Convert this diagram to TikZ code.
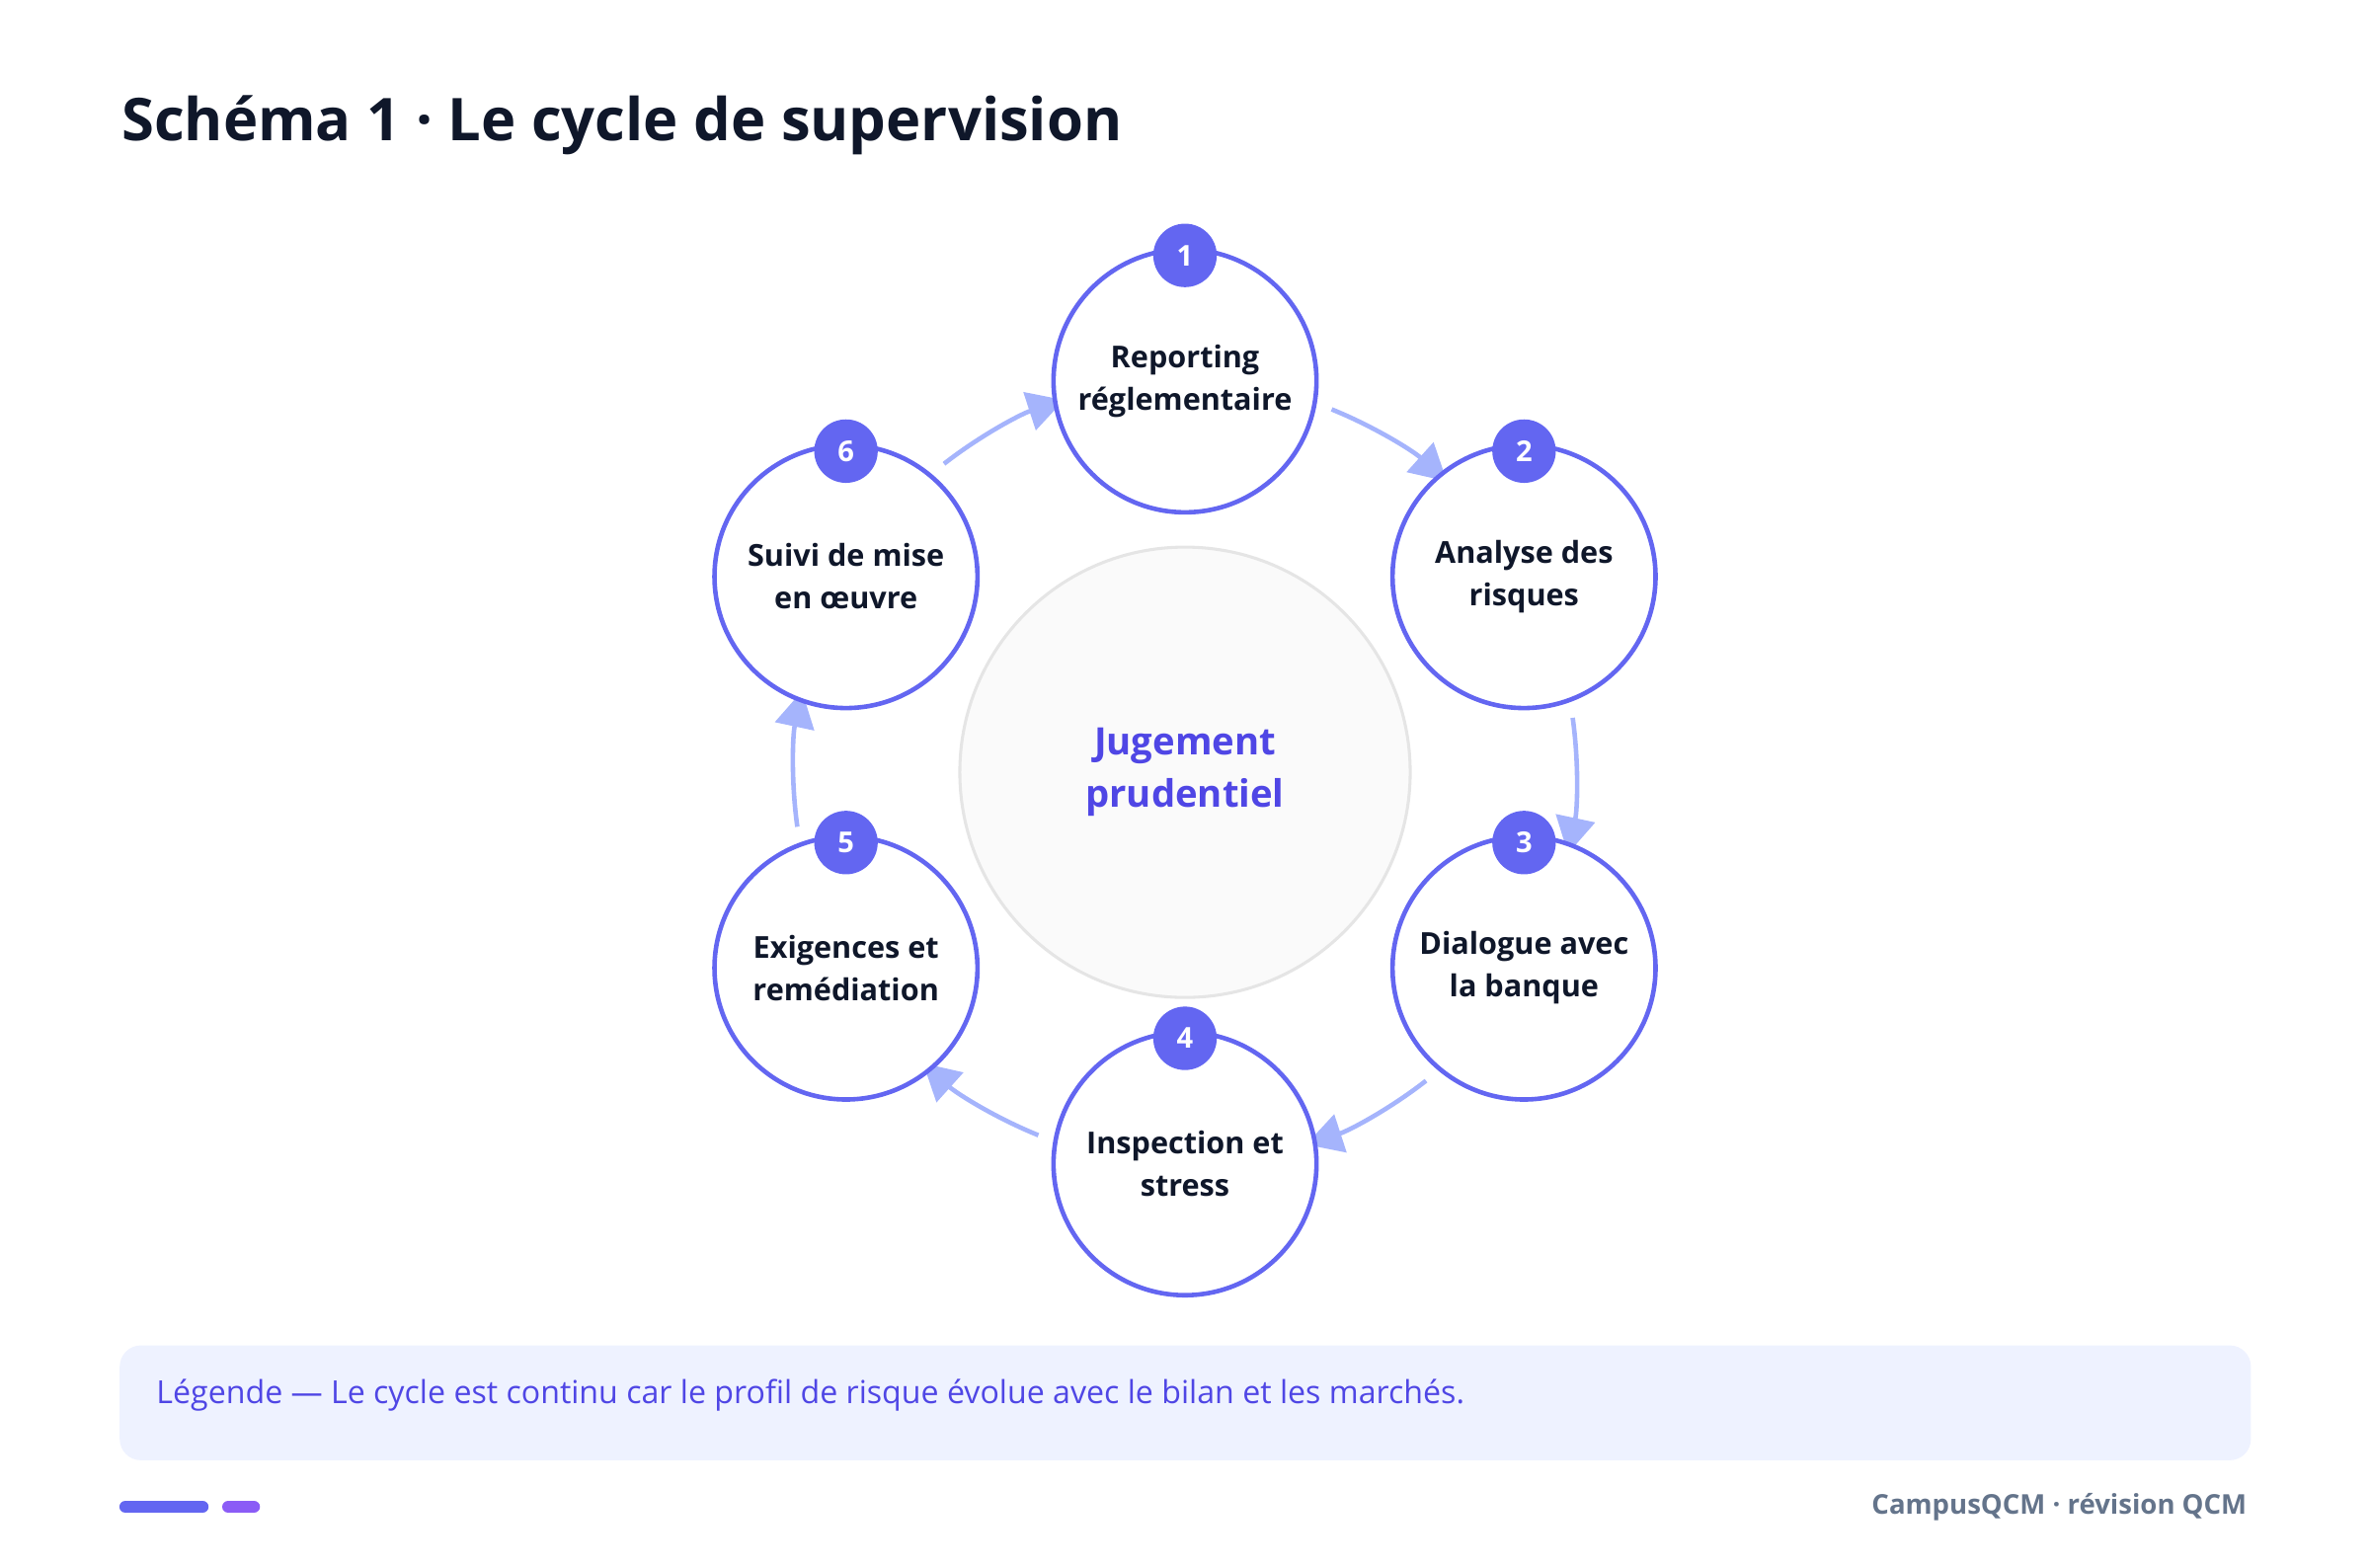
\documentclass[tikz,border=0pt]{standalone}
\usepackage{fontspec}
\setmainfont{Open Sans}
\usepackage{tikz}
\usetikzlibrary{positioning,arrows.meta}
\definecolor{indigo}{HTML}{6366F1}
\definecolor{indigoD}{HTML}{4F46E5}
\definecolor{pale}{HTML}{A5B4FC}
\definecolor{ink}{HTML}{0F172A}
\definecolor{slate}{HTML}{64748B}
\definecolor{lege}{HTML}{EEF2FF}
\definecolor{violet}{HTML}{8B5CF6}
\tikzset{
  Etape/.style={circle,draw=indigo,line width=3pt,fill=white,minimum size=174pt,
    align=center,font=\fontsize{20}{28}\selectfont\bfseries,text=ink},
  Nummer/.style={circle,fill=indigo,minimum size=42pt,inner sep=0pt,
    font=\fontsize{19}{19}\selectfont\bfseries,text=white},
  Bogen/.style={pale,line width=3pt,-{Triangle[length=24pt,width=26pt]}}
}
\begin{document}
\begin{tikzpicture}[x=1pt,y=1pt]
\useasboundingbox (0,0) rectangle (1568,1037);
% Titel
\node[anchor=west,font=\fontsize{39}{40}\selectfont\bfseries,text=ink] (titel) at (77,954)
  {Schéma 1 · Le cycle de supervision};
% Zentrum
\coordinate (M) at (784,526);
\node[circle,draw=black!10,line width=2pt,fill=black!2,minimum size=298pt,align=center,
  font=\fontsize{25}{35}\selectfont\bfseries,text=indigoD] (zentrum) at (M)
  {Jugement\\prudentiel};
% Pfeile
\foreach \a in {90,30,-30,-90,-150,150}
  \draw[Bogen] ([shift={(\a-22:259)}]M) arc[start angle=\a-22,end angle=\a-42,radius=259];
% Etappen
\foreach \n/\a/\t in {1/90/Reporting\\réglementaire,2/30/Analyse des\\risques,
  3/-30/Dialogue avec\\la banque,4/-90/Inspection et\\stress,
  5/-150/Exigences et\\remédiation,6/150/Suivi de mise\\en œuvre}{
  \node[Etape] (e\n) at ([shift={(\a:259)}]M) {\t};
  \node[Nummer] (n\n) at ([yshift=83pt]e\n.center) {\n};
}
% Legende
\node[fill=lege,rounded corners=14pt,minimum width=1410pt,minimum height=76pt,anchor=north west]
  (legende) at (79,147) {};
\node[anchor=west,font=\fontsize{21}{22}\selectfont,text=indigoD] (legtext) at (100,114)
  {Légende — Le cycle est continu car le profil de risque évolue avec le bilan et les marchés.};
% Fuss
\draw[indigo,line width=8pt,line cap=round] (83,40) -- (134,40);
\draw[violet,line width=8pt,line cap=round] (151,40) -- (168,40);
\node[anchor=east,font=\fontsize{18}{20}\selectfont\bfseries,text=slate] (fuss) at (1490,40)
  {CampusQCM · révision QCM};
\end{tikzpicture}
\end{document}
